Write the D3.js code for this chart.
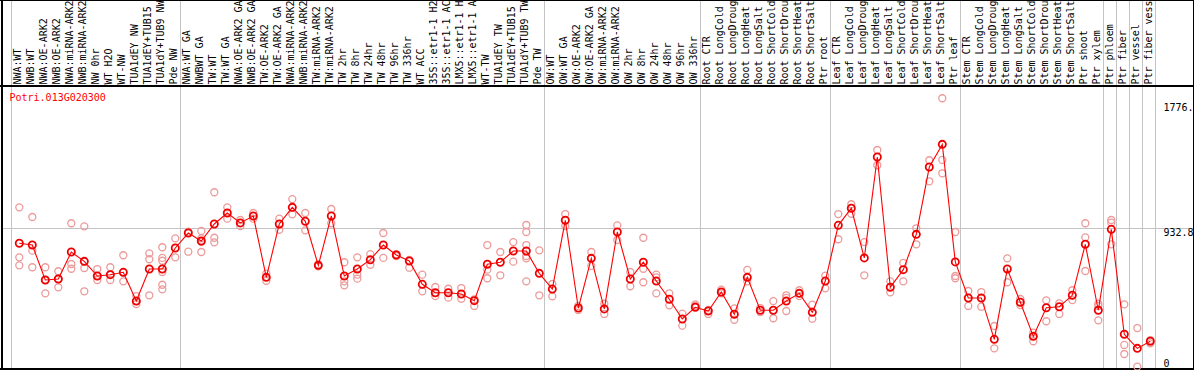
<!DOCTYPE html>
<html>
<head>
<meta charset="utf-8">
<script src="https://cdn.jsdelivr.net/npm/d3@7"></script>
<style>
  body { margin: 0; background: #fff; }
  svg text { font-family: "DejaVu Sans Mono", monospace; font-size: 10px; }
</style>
</head>
<body>
<div id="chart"></div>
<script>
const gene_name = "Potri.013G020300";

// labels as they show in the header (the header only has room for 14 characters)
const sample_labels = [
    "NWA:WT", "NWB:WT", "NWA:OE-ARK2", "NWB:OE-ARK2", "NWA:miRNA-ARK2", "NWB:miRNA-ARK2",
    "NW 0hr", "WT H2O", "WT-NW", "TUA1dEY NW", "TUA1dEY+TUB15", "TUA1dY+TUB9 NW", "Pde NW",
    "NWA:WT GA", "NWBWT GA", "TW:WT", "TW:WT GA", "NWA:OE-ARK2 GA", "NWB:OE-ARK2 GA", "TW:OE-ARK2",
    "TW:OE-ARK2 GA", "NWA:miRNA-ARK2", "NWB:miRNA-ARK2", "TW:miRNA-ARK2", "TW:miRNA-ARK2",
    "TW 2hr", "TW 8hr", "TW 24hr", "TW 48hr", "TW 96hr", "TW 336hr", "WT ACC",
    "35S::etr1-1 H2", "35S::etr1-1 AC", "LMX5::etr1-1 H", "LMX5::etr1-1 A",
    "WT-TW", "TUA1dEY TW", "TUA1dEY+TUB15", "TUA1dY+TUB9 TW", "Pde TW",
    "OW:WT", "OW:WT GA", "OW:OE-ARK2", "OW:OE-ARK2 GA", "OW:miRNA-ARK2", "OW:miRNA-ARK2",
    "OW 2hr", "OW 8hr", "OW 24hr", "OW 48hr", "OW 96hr", "OW 336hr",
    "Root CTR", "Root LongCold", "Root LongDroug", "Root LongHeat", "Root LongSalt",
    "Root ShortCold", "Root ShortDrou", "Root ShortHeat", "Root ShortSalt", "Ptr root",
    "Leaf CTR", "Leaf LongCold", "Leaf LongDroug", "Leaf LongHeat", "Leaf LongSalt",
    "Leaf ShortCold", "Leaf ShortDrou", "Leaf ShortHeat", "Leaf ShortSalt", "Ptr leaf",
    "Stem CTR", "Stem LongCold", "Stem LongDroug", "Stem LongHeat", "Stem LongSalt",
    "Stem ShortCold", "Stem ShortDrou", "Stem ShortHeat", "Stem ShortSalt", "Ptr shoot",
    "Ptr xylem", "Ptr phloem", "Ptr fiber", "Ptr vessel", "Ptr fiber vess"
];

const mean_values = [
    832, 820, 584, 591, 773, 710, 611, 620, 636, 442, 658, 658, 800,
    901, 847, 962, 1036, 969, 1016, 602, 962, 1074, 980, 683, 1016,
    611, 658, 721, 820, 753, 712, 555, 498, 498, 490, 445,
    690, 704, 780, 780, 629,
    523, 987, 395, 730, 389, 908, 591, 704, 577, 454, 321, 400,
    375, 503, 353, 602, 380, 380, 442, 494, 366, 577,
    953, 1068, 733, 1414, 535, 654, 892, 1346, 1499, 706,
    463, 463, 184, 658, 434, 204, 397, 404, 481, 825,
    380, 926, 218, 123, 171
];

const replicate_values = [
    [1074, 737, 683], [1009, 782, 670], [670, 584, 494], [643, 591, 535], [967, 692, 660],
    [946, 665, 508], [658, 611, 584], [670, 620, 584], [751, 636, 575], [476, 442, 422],
    [764, 724, 481], [805, 733, 714, 638, 552, 521], [865, 737],
    [910, 775], [915, 865, 842, 773], [1176, 869, 838], [1074, 998], [989, 948],
    [1036, 998], [627, 579], [998, 923], [1130, 1027], [1036, 919], [690, 677], [1063, 967],
    [704, 575, 548], [737, 620, 593], [759, 687], [901, 733], [759, 746], [719, 667],
    [620, 508], [537, 476], [525, 465], [530, 458], [454, 409],
    [820, 654, 596], [773, 616], [840, 708], [955, 908, 820, 746, 730, 575], [784, 481],
    [557, 474], [1029, 948], [409, 382], [773, 679], [424, 355], [953, 854],
    [638, 542], [869, 660, 569], [620, 602, 494], [494, 413], [357, 276], [420, 409],
    [382, 355], [519, 494], [393, 316], [652, 575], [395, 368], [442, 326],
    [481, 463, 375], [515, 476], [418, 323], [613, 528],
    [1029, 859], [1095, 1031], [840, 616], [1461, 1358], [575, 501], [699, 575],
    [933, 825], [1392, 1250], [1810, 1394, 1304], [908, 611, 596],
    [510, 409], [503, 404], [274, 123], [730, 569], [456, 415], [229, 171],
    [447, 306], [427, 355], [515, 449], [967, 872, 645],
    [424, 409, 312], [989, 971, 825], [420, 146, 85], [260, 0], [179, 157]
];

// column index where each sample group starts
const group_breaks = [0, 13, 41, 53, 63, 73, 84, 85, 86, 87, 88];

const y_tick_values = [0, 932.8, 1776];
const y_tick_labels = ["0", "932.8", "1776."];
const y_grid_values = [932.8];

const width = 1194;
const height = 370;
const label_bottom = 86;
const plot_bottom = 369;

const svg = d3.select('#chart')
    .append('svg')
    .attr('width', width)
    .attr('height', height)

const x = d3.scaleBand()
    .domain(d3.range(sample_labels.length))
    .range([11, 1155])
    .padding(0)

const y = d3.scaleLinear()
    .domain([0, 1776])
    .range([366.6, 103.3])

const point_x = i => x(i) + 8.3
const break_x = d => (d < sample_labels.length ? x(d) : x.range()[1]) + 0.5

// group separators
svg.append('g')
    .selectAll('line')
    .data(group_breaks)
    .enter()
    .append('line')
    .attr('x1', break_x)
    .attr('x2', break_x)
    .attr('y1', 0)
    .attr('y2', plot_bottom)
    .attr('stroke', '#c4c4c4')
    .attr('stroke-width', 1)
    .attr('shape-rendering', 'crispEdges')

svg.append('g')
    .selectAll('line')
    .data(y_grid_values)
    .enter()
    .append('line')
    .attr('x1', 2)
    .attr('x2', width)
    .attr('y1', d => Math.round(y(d)) + 0.5)
    .attr('y2', d => Math.round(y(d)) + 0.5)
    .attr('stroke', '#c4c4c4')
    .attr('stroke-width', 1)
    .attr('shape-rendering', 'crispEdges')

// frame
const frame = svg.append('g')
    .attr('stroke', '#000')
    .attr('shape-rendering', 'crispEdges')
frame.append('line').attr('x1', 0).attr('x2', width).attr('y1', 0.5).attr('y2', 0.5).attr('stroke-width', 1)
frame.append('line').attr('x1', 0).attr('x2', width).attr('y1', label_bottom).attr('y2', label_bottom).attr('stroke-width', 2)
frame.append('line').attr('x1', 0).attr('x2', width).attr('y1', plot_bottom).attr('y2', plot_bottom).attr('stroke-width', 2)
frame.append('line').attr('x1', 2).attr('x2', 2).attr('y1', 0).attr('y2', height).attr('stroke-width', 2)
frame.append('line').attr('x1', 1193.5).attr('x2', 1193.5).attr('y1', 0).attr('y2', height).attr('stroke-width', 1.5)

// sample labels, rotated
svg.append('g')
    .selectAll('text')
    .data(sample_labels)
    .enter()
    .append('text')
    .attr('transform', (d, i) => `translate(${x(i) + 10} ${label_bottom - 1.5}) rotate(-90)`)
    .attr('text-anchor', 'start')
    .attr('fill', '#000')
    .attr('textLength', d => d.length > 13 ? 84 : null)
    .text(d => d)

// replicates
const rep_points = []
replicate_values.forEach((reps, i) => reps.forEach(v => rep_points.push({ i: i, v: v })))

svg.append('g')
    .selectAll('circle')
    .data(rep_points)
    .enter()
    .append('circle')
    .attr('cx', d => point_x(d.i))
    .attr('cy', d => y(d.v))
    .attr('r', 3.5)
    .attr('fill', 'none')
    .attr('stroke', '#ec9a9a')
    .attr('stroke-width', 1.3)

// mean line
const line = d3.line()
    .x((d, i) => point_x(i))
    .y(d => y(d))

svg.append('path')
    .datum(mean_values)
    .attr('d', line)
    .attr('fill', 'none')
    .attr('stroke', '#ff0000')
    .attr('stroke-width', 1.1)

svg.append('g')
    .selectAll('circle')
    .data(mean_values)
    .enter()
    .append('circle')
    .attr('cx', (d, i) => point_x(i))
    .attr('cy', d => y(d))
    .attr('r', 3.6)
    .attr('fill', 'none')
    .attr('stroke', '#ee0000')
    .attr('stroke-width', 1.8)

// gene name
svg.append('text')
    .attr('x', 9.5)
    .attr('y', 100.5)
    .attr('fill', '#ff0000')
    .text(gene_name)

// y tick labels on the right
svg.append('g')
    .selectAll('text')
    .data(y_tick_values)
    .enter()
    .append('text')
    .attr('x', 1163.5)
    .attr('y', d => d === 0 ? y(d) : y(d) + 8)
    .attr('fill', '#000')
    .text((d, i) => y_tick_labels[i])
</script>
</body>
</html>
